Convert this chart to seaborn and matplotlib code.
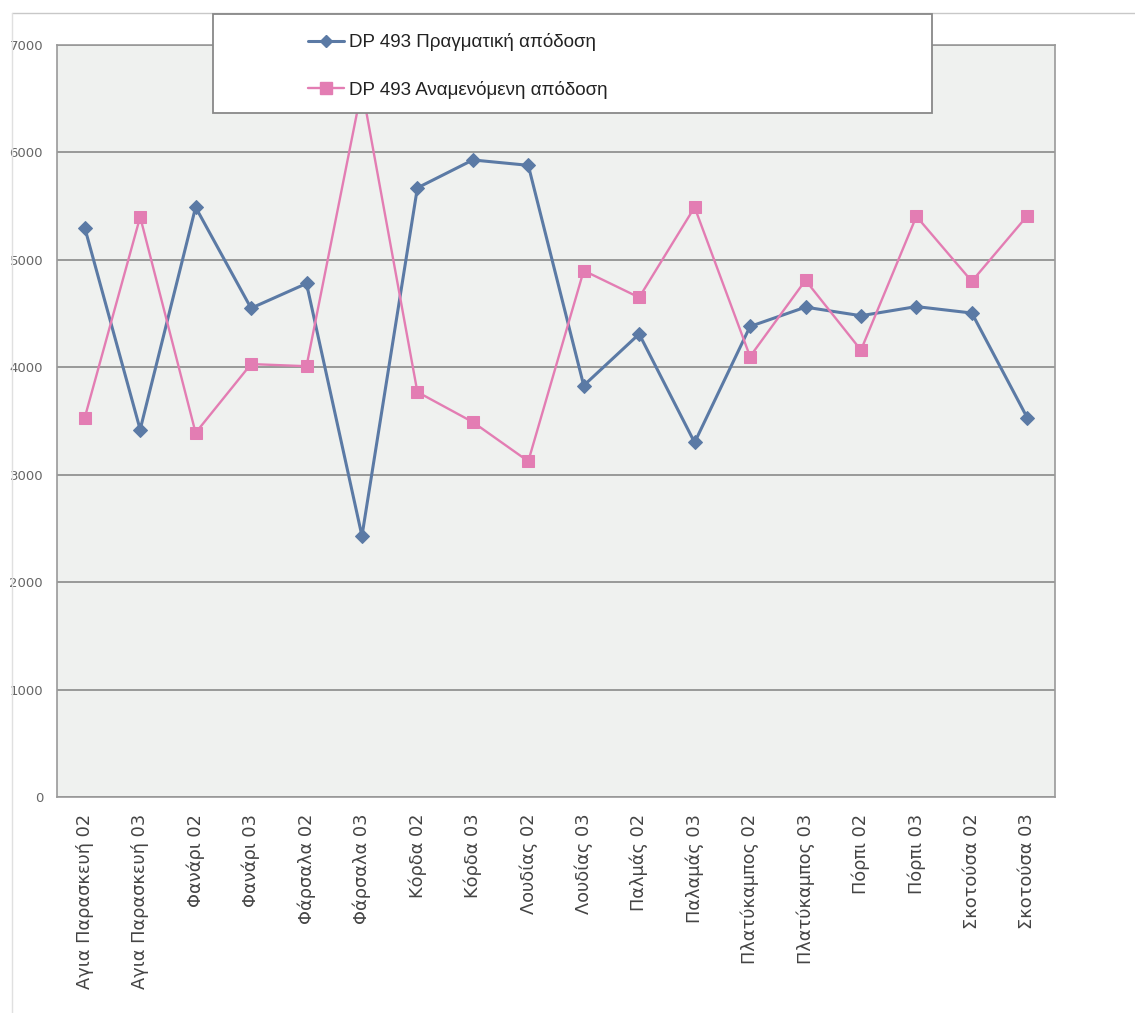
import numpy as np
import pandas as pd
import matplotlib
matplotlib.use('Agg')
import matplotlib.pyplot as plt
from matplotlib.patches import Rectangle
from matplotlib.lines import Line2D
import seaborn as sns

# τιμές διαβασμένες από το γράφημα
stations = ['Αγια Παρασκευή 02', 'Αγια Παρασκευή 03', 'Φανάρι 02', 'Φανάρι 03',
            'Φάρσαλα 02', 'Φάρσαλα 03', 'Κόρδα 02', 'Κόρδα 03', 'Λουδίας 02',
            'Λουδίας 03', 'Παλμάς 02', 'Παλαμάς 03', 'Πλατύκαμπος 02',
            'Πλατύκαμπος 03', 'Πόρπι 02', 'Πόρπι 03', 'Σκοτούσα 02', 'Σκοτούσα 03']
actual = [5300, 3420, 5490, 4550, 4780, 2430, 5670, 5930, 5880,
          3830, 4310, 3300, 4380, 4560, 4480, 4565, 4505, 3530]
expected = [3530, 5400, 3390, 4030, 4010, 6600, 3770, 3490, 3125,
            4900, 4650, 5490, 4100, 4810, 4160, 5405, 4800, 5410]
label_actual = 'DP 493 Πραγματική απόδοση'
label_expected = 'DP 493 Αναμενόμενη απόδοση'

df = pd.DataFrame({'pos': np.arange(len(stations)), 'actual': actual, 'expected': expected})

blue = '#5b7aa5'
pink = '#e37db3'

sns.set_style('white')
plt.rcParams['font.family'] = ['DejaVu Sans']

fig = plt.figure(figsize=(11.35, 10.13), dpi=100)
ax = fig.add_axes([57/1135, 1 - 797/1013, 998/1135, 752/1013])
ax.set_facecolor('#eff1ef')

sns.lineplot(data=df, x='pos', y='actual', ax=ax, color=blue, lw=2.2,
             marker='D', markersize=7, markeredgecolor=blue, label=label_actual)
sns.lineplot(data=df, x='pos', y='expected', ax=ax, color=pink, lw=1.7,
             marker='s', markersize=9, markeredgecolor=pink, label=label_expected)

ax.set_xlim(-0.5, len(stations) - 0.5)
ax.set_ylim(0, 7000)
ax.set_yticks(range(0, 7001, 1000))
ax.set_yticklabels([str(v) for v in range(0, 7001, 1000)], fontsize=9.5, color='#666666')
ax.set_xticks(df['pos'])
ax.set_xticklabels(stations, rotation=90, fontsize=12.8, color='#444444')
ax.set_xticks(np.arange(-0.5, len(stations)), minor=True)
ax.tick_params(axis='x', which='major', length=0, pad=12)
ax.tick_params(axis='x', which='minor', length=4, color='#999999', direction='out')
ax.tick_params(axis='y', length=4, color='#999999', direction='out', pad=6)
ax.set_xlabel('')
ax.set_ylabel('')
ax.yaxis.grid(True, color='#8a8a8a', lw=1.2)
ax.set_axisbelow(True)
for s in ax.spines.values():
    s.set_color('#999999')
    s.set_linewidth(1.2)

# πλαίσιο υπομνήματος
ax.get_legend().remove()
frame = Rectangle((213/1135, 1 - 113/1013), 719/1135, 99/1013, transform=fig.transFigure,
                  facecolor='white', edgecolor='#888888', lw=1.3, zorder=5)
fig.add_artist(frame)
handles = [Line2D([], [], color=blue, lw=2.2, marker='D', markersize=6),
           Line2D([], [], color=pink, lw=1.7, marker='s', markersize=8)]
leg = fig.legend(handles, [label_actual, label_expected], loc='center',
                 bbox_to_anchor=(458/1135, 1 - 66/1013), frameon=False,
                 prop={'family': ['Liberation Sans', 'DejaVu Sans'], 'size': 13.5},
                 handlelength=1.9, handletextpad=0.3, labelspacing=1.55)
for t in leg.get_texts():
    t.set_color('#222222')
leg.set_zorder(6)

# περίγραμμα περιοχής γραφήματος
fig.add_artist(Line2D([12/1135, 1], [1 - 13/1013, 1 - 13/1013], transform=fig.transFigure,
                      color='#c8c8c8', lw=1))
fig.add_artist(Line2D([12/1135, 12/1135], [0, 1 - 13/1013], transform=fig.transFigure,
                      color='#e0e0e0', lw=1))

fig.savefig('out.png', dpi=100)
